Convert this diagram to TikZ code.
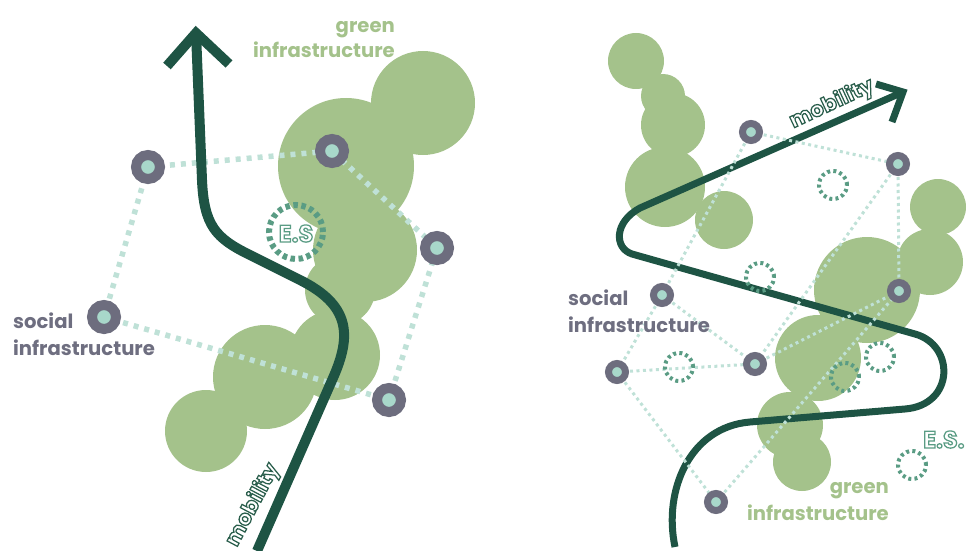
\documentclass[tikz,border=0pt]{standalone}
\usepackage{fontspec}
\setmainfont{Poppins}
\usetikzlibrary{calc}
\definecolor{gi}{HTML}{A4C28B}
\definecolor{mobc}{HTML}{1E5444}
\definecolor{ring}{HTML}{6D6D7E}
\definecolor{mint}{HTML}{A8D8CA}
\definecolor{dotc}{HTML}{BFE1D7}
\definecolor{esc}{HTML}{5A9C84}
\definecolor{sitxt}{HTML}{6E6E80}
% outlined text: white fill, coloured stroke (PDF text render mode 2)
\newcommand{\mobout}[1]{\special{pdf:code q 1 1 1 rg 0.165 0.369 0.298 RG 2 Tr 1.25 w}#1\special{pdf:code Q}}
\newcommand{\esout}[1]{\special{pdf:code q 1 1 1 rg 0.353 0.612 0.518 RG 2 Tr 1.25 w}#1\special{pdf:code Q}}
\tikzset{
  gcirc/.style={fill=gi, draw=none},
  lbl/.style={font=\fontsize{19.6}{24}\selectfont\bfseries, inner sep=0pt},
  sinodeL/.style={circle, fill=mint, draw=ring, line width=10pt, minimum size=24pt, inner sep=0pt},
  sinodeR/.style={circle, fill=mint, draw=ring, line width=7pt, minimum size=17pt, inner sep=0pt},
  dotL/.style={draw=dotc, line width=5.5pt, dash pattern=on 5pt off 6pt},
  dotR/.style={draw=dotc, line width=3pt, dash pattern=on 3pt off 3.5pt},
  esringL/.style={circle, draw=esc, line width=6pt, dash pattern=on 4.5pt off 3.6pt, minimum size=54pt, inner sep=0pt},
  esringR/.style={circle, draw=esc, line width=4pt, dash pattern=on 3pt off 3.2pt, minimum size=28pt, inner sep=0pt},
  mobL/.style={draw=mobc, line width=10pt, line join=miter},
  mobR/.style={draw=mobc, line width=7pt, line join=miter},
  outl/.style={font=\fontsize{21}{25}\selectfont\bfseries, inner sep=0pt},
  outes/.style={font=\fontsize{24}{28}\selectfont\bfseries, inner sep=0pt},
}
\begin{document}
\begin{tikzpicture}[x=1pt,y=-1pt]
\useasboundingbox (0,0) rectangle (967,551);
% ---------------- LEFT PANEL ----------------
\foreach \cx/\cy/\r in {423/103/52, 346/166/68, 365/250/52, 340/290/35, 335/355/45, 265/377/52, 206/431/41}
  \fill[gcirc] (\cx,\cy) circle[radius=\r];
\coordinate (N1) at (148,167);
\coordinate (N2) at (332,151);
\coordinate (N3) at (437,248);
\coordinate (N4) at (104,317);
\coordinate (N5) at (389,400);
\draw[dotL] (N1) -- (N2) -- (N3) -- (N5) -- (N4) -- cycle;
\node[esringL] (esL) at (296,232) {};
\draw[mobL] (257,551) -- (333,378) .. controls (352,335) and (350,305) .. (300,280)
  -- (250,255) .. controls (215,238) and (204,225) .. (202,180) -- (196,33);
\draw[mobL] (167,66) -- (196,33) -- (229,64);
\foreach \n in {N1,N2,N3,N4,N5} \node[sinodeL] (s\n) at (\n) {};
\node[lbl, text=gi, anchor=base east] (giL1) at (395,33) {green};
\node[lbl, text=gi, anchor=base east] (giL2) at (395,58) {infrastructure};
\node[lbl, text=sitxt, anchor=base west] (siL1) at (13,328) {social};
\node[lbl, text=sitxt, anchor=base west] (siL2) at (13,355) {infrastructure};
\node[outes, anchor=base] (esLt) at (296,242) {\esout{E.S}};
\node[outl, rotate=62] (mobLt) at (253,505) {\mobout{mobility}};
% ---------------- RIGHT PANEL ----------------
\foreach \cx/\cy/\r in {636/61/28, 663/96/22, 673/125/32, 665/187/40, 724/220/29,
  938/207/28, 930/262/33, 867/290/53, 818/358/43, 790/425/33, 802/462/29}
  \fill[gcirc] (\cx,\cy) circle[radius=\r];
\draw[mobR] (675,547) .. controls (663,490) and (690,427) .. (750,422)
  -- (905,409) .. controls (955,405) and (955,345) .. (915,334)
  -- (632,254) .. controls (614,248) and (614,222) .. (640,208) -- (903,92);
\draw[mobR] (876,84) -- (903,92) -- (892,122);
\coordinate (R1) at (751,132);
\coordinate (R2) at (898,164);
\coordinate (R3) at (899,291);
\coordinate (R4) at (662,295);
\coordinate (R5) at (617,372);
\coordinate (R6) at (755,364);
\coordinate (R7) at (716,502);
\foreach \a/\b in {R1/R2, R1/R4, R2/R3, R2/R6, R4/R5, R4/R6, R5/R6, R5/R7, R7/R3, R6/R3}
  \draw[dotR] (\a) -- (\b);
\node[esringR] (E1) at (833,185) {};
\node[esringR] (E2) at (760,277) {};
\node[esringR] (E3) at (679,367) {};
\node[esringR] (E4) at (880,357) {};
\node[esringR] (E5) at (845,377) {};
\node[esringR] (E6) at (912,465) {};
\foreach \n in {R1,R2,R3,R4,R5,R6,R7} \node[sinodeR] (s\n) at (\n) {};
\node[lbl, text=sitxt, anchor=base west] (siR1) at (568,305) {social};
\node[lbl, text=sitxt, anchor=base west] (siR2) at (568,332) {infrastructure};
\node[lbl, text=gi, anchor=base east] (giR1) at (889,493) {green};
\node[lbl, text=gi, anchor=base east] (giR2) at (889,520) {infrastructure};
\node[outes, anchor=base west] (esRt) at (923,448) {\esout{E.S.}};
\node[outl, rotate=25] (mobRt) at (832,104) {\mobout{mobility}};
\end{tikzpicture}
\end{document}
